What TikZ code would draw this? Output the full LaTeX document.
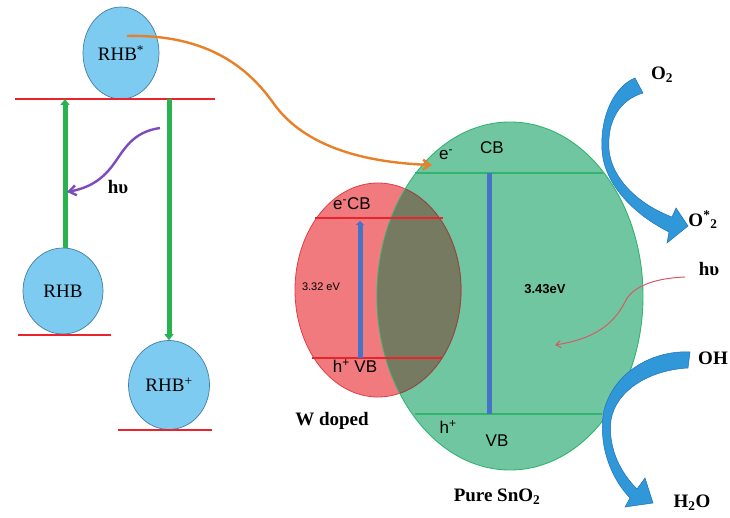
\documentclass[tikz,border=0pt]{standalone}
\usepackage{fontspec}
\setmainfont{Liberation Serif}
\setsansfont{Liberation Sans}
\usetikzlibrary{shapes.geometric,arrows.meta}

\definecolor{circfill}{RGB}{125,203,240}
\definecolor{circedge}{RGB}{70,125,165}
\definecolor{levelred}{RGB}{235,35,45}
\definecolor{transgreen}{RGB}{40,178,80}
\definecolor{hvpurple}{RGB}{125,75,190}
\definecolor{eorange}{RGB}{232,128,40}
\definecolor{snfill}{RGB}{112,198,160}
\definecolor{snedge}{RGB}{50,180,110}
\definecolor{wfill}{RGB}{240,122,126}
\definecolor{wedge}{RGB}{228,60,70}
\definecolor{mixfill}{RGB}{118,122,96}
\definecolor{mixedge}{RGB}{120,85,70}
\definecolor{gapblue}{RGB}{70,115,200}
\definecolor{flowblue}{RGB}{48,152,216}
\definecolor{flowedge}{RGB}{30,112,188}
\definecolor{hvred}{RGB}{212,92,102}

\begin{document}
\begin{tikzpicture}[x=1pt,y=-1pt,
  dye/.style={ellipse, draw=circedge, fill=circfill, line width=0.7pt, inner sep=0pt,
              font=\fontsize{19}{19}\selectfont},
  dyelevel/.style={draw=levelred, line width=2.6pt},
  transfer/.style={draw=transgreen, line width=5pt, -{Triangle[width=9pt,length=6pt]}},
  bandred/.style={draw=levelred, line width=1.4pt},
  bandgreen/.style={draw=snedge, line width=1.6pt},
  gap/.style={draw=gapblue, line width=5pt},
  flow/.style={fill=flowblue, draw=flowedge, line width=0.5pt},
  serif/.style={font=\fontsize{19}{19}\selectfont\bfseries},
  sanslbl/.style={font=\fontsize{17}{17}\selectfont\sffamily},
  smalllbl/.style={font=\fontsize{11}{11}\selectfont\sffamily},
]
\useasboundingbox (0,0) rectangle (730,518);

% ---------- dye energy levels ----------
\coordinate (topL) at (15,99);
\coordinate (topR) at (215,99);
\coordinate (gL) at (18,335);
\coordinate (gR) at (111,335);
\coordinate (cL) at (118,430);
\coordinate (cR) at (212,430);

\node[dye, minimum width=76pt, minimum height=92pt] (rhbs) at (121,53) {RHB\textsuperscript{*}};
\node[dye, minimum width=80pt, minimum height=86pt] (rhb) at (63,291) {RHB};
\node[dye, minimum width=81pt, minimum height=89pt] (rhbp) at (169,385) {RHB\textsuperscript{+}};

\draw[dyelevel] (topL) -- (topR);
\draw[dyelevel] (gL) -- (gR);
\draw[dyelevel] (cL) -- (cR);

\draw[transfer] ([xshift=2pt]rhb.north) -- ([xshift=2pt]rhb.north |- topL);
\draw[transfer] (rhbp.north |- topL) -- (rhbp.north);

% photon absorbed by the dye
\coordinate (hvA) at (160,128);
\coordinate (hvB) at (67,192);
\draw[draw=hvpurple, line width=2.4pt, -{Straight Barb[length=7pt,width=10pt]}]
  (hvA) .. controls (132,132) and (124,150) .. (113,165)
        .. controls (101,181) and (88,188) .. (hvB);
\node[serif] (hvdye) at (118,187) {hυ};

% ---------- semiconductors ----------
% Pure SnO2 body
\fill[snfill] (510,296) ellipse [x radius=133, y radius=174];
% W doped body
\fill[wfill] (378,290) ellipse [x radius=83, y radius=107];
% overlap of both bodies
\begin{scope}
  \clip (510,296) ellipse [x radius=133, y radius=174];
  \fill[mixfill] (378,290) ellipse [x radius=83, y radius=107];
\end{scope}
\draw[wedge, line width=0.8pt] (378,290) ellipse [x radius=83, y radius=107];
\begin{scope}
  \clip (510,296) ellipse [x radius=133, y radius=174];
  \draw[mixedge, line width=0.8pt] (378,290) ellipse [x radius=83, y radius=107];
\end{scope}
\draw[snedge, line width=0.9pt] (510,296) ellipse [x radius=133, y radius=174];

% band edges
\coordinate (wcb1) at (315,218);
\coordinate (wcb2) at (443,218);
\coordinate (wvb1) at (312,358);
\coordinate (wvb2) at (442,358);
\coordinate (scb1) at (415,173);
\coordinate (scb2) at (603,173);
\coordinate (svb1) at (415,414);
\coordinate (svb2) at (602,414);
\draw[bandred] (wcb1) -- (wcb2);
\draw[bandred] (wvb1) -- (wvb2);
\draw[bandgreen] (scb1) -- (scb2);
\draw[bandgreen] (svb1) -- (svb2);

% band gaps
\coordinate (wgapB) at (360,358);
\coordinate (wgapT) at (360,221);
\coordinate (sgapB) at (489,414);
\coordinate (sgapT) at (489,173);
\draw[gap, -{Triangle[width=8pt,length=4pt]}] (wgapB) -- (wgapT);
\draw[gap] (sgapB) -- (sgapT);

\node[sanslbl] (wcb) at (352,204) {e\textsuperscript{-}CB};
\node[sanslbl] (wvb) at (355,366) {h\textsuperscript{+} VB};
\node[smalllbl] (wgap) at (321,287) {3.32 eV};
\node[serif] (wlbl) at (332,421) {W doped};

\node[sanslbl] (se) at (446,155) {e\textsuperscript{-}};
\node[sanslbl] (scb) at (492,148) {CB};
\node[sanslbl] (sh) at (448,427) {h\textsuperscript{+}};
\node[sanslbl] (svb) at (497,441) {VB};
\node[font=\fontsize{13}{13}\selectfont\sffamily\bfseries] (sgap) at (545,289) {3.43eV};
\node[serif] (slbl) at (497,497) {Pure SnO\textsubscript{2}};

% electron injected from the excited dye
\coordinate (eS) at (127,36);
\coordinate (eE) at (432,165);
\draw[draw=eorange, line width=2.4pt, -{Straight Barb[length=7pt,width=10pt]}]
  (eS) .. controls (210,34) and (250,70) .. (274,104)
       .. controls (300,140) and (350,162) .. (eE);

% ---------- surface reactions ----------
\node[serif] (o2) at (662,75) {O\textsubscript{2}};
\node[serif] (o2r) at (703,220) {O\textsuperscript{*}\textsubscript{2}};
\node[serif] (hvr) at (709,269) {hυ};
\node[serif] (oh) at (713,358) {OH};
\node[serif] (h2o) at (692,503) {H\textsubscript{2}O};

% O2 -> O2* reduction arrow
\path[flow] (635,78) .. controls (615,86) and (600,115) .. (602,150)
  .. controls (604,185) and (635,215) .. (669,232)
  -- (667,243) -- (688,226) -- (676,208) -- (672,217)
  .. controls (640,205) and (612,180) .. (609,150)
  .. controls (607,120) and (620,100) .. (643,93) -- cycle;

% OH -> H2O arrow
\path[flow] (690,352) .. controls (655,350) and (615,370) .. (604,410)
  .. controls (598,440) and (608,475) .. (630,498)
  -- (625,507) -- (653,503) -- (645,478) -- (637,489)
  .. controls (618,470) and (608,445) .. (611,420)
  .. controls (616,390) and (650,370) .. (688,368) -- cycle;

% incoming light on the semiconductor
\coordinate (lS) at (685,277);
\coordinate (lE) at (555,345);
\draw[draw=hvred, line width=1pt, -{Straight Barb[length=5pt,width=7pt]}]
  (lS) .. controls (660,278) and (635,284) .. (626,300)
       .. controls (616,320) and (600,338) .. (lE);

\end{tikzpicture}
\end{document}
